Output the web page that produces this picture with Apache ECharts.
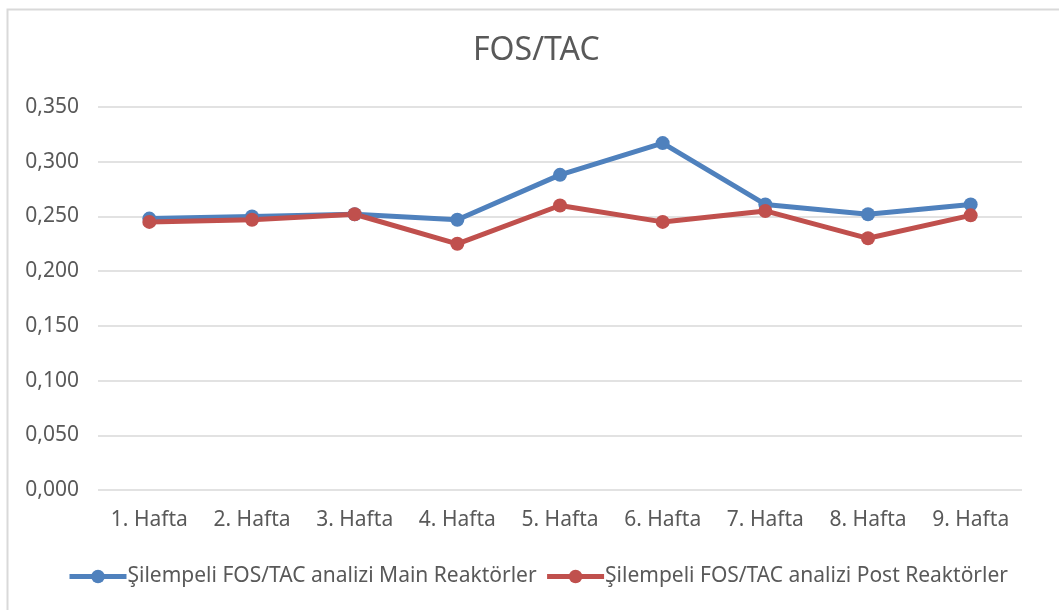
<!DOCTYPE html>
<html>
<head>
<meta charset="utf-8">
<script src="https://cdn.jsdelivr.net/npm/echarts@6/dist/echarts.min.js"></script>
<style>
  html, body { margin: 0; padding: 0; background: #fff; }
  #chart { width: 1059px; height: 610px; }
</style>
</head>
<body>
<div id="chart"></div>
<script>
(function () {
  "use strict";

  const weeks = ['1. Hafta', '2. Hafta', '3. Hafta', '4. Hafta', '5. Hafta', '6. Hafta', '7. Hafta', '8. Hafta', '9. Hafta'];
  const mainValues = [0.248, 0.250, 0.252, 0.247, 0.288, 0.317, 0.261, 0.252, 0.261];
  const postValues = [0.245, 0.247, 0.252, 0.225, 0.260, 0.245, 0.255, 0.230, 0.251];
  const seriesNames = ['Şilempeli FOS/TAC analizi Main Reaktörler', 'Şilempeli FOS/TAC analizi Post Reaktörler'];

  const font = '"Noto Sans", "Open Sans", sans-serif';
  const textColor = '#595959';

  function lineSeries(name, data, color) {
    return {
      name,
      type: 'line',
      data,
      symbol: 'circle',
      symbolSize: 14,
      lineStyle: { width: 5, color },
      itemStyle: { color },
      emphasis: { disabled: true }
    };
  }

  const chart = echarts.init(document.getElementById('chart'));
  chart.setOption({
    animation: false,
    backgroundColor: '#fff',
    title: {
      text: 'FOS/TAC',
      left: 468,
      top: 30,
      textStyle: { fontFamily: font, fontSize: 32, fontWeight: 'normal', color: textColor }
    },
    legend: {
      data: seriesNames,
      left: 62,
      top: 561,
      itemWidth: 57,
      itemHeight: 17,
      itemGap: 8,
      lineStyle: { width: 5 },
      textStyle: { fontFamily: font, fontSize: 21, color: textColor, padding: [0, 0, 0, -4] }
    },
    grid: { left: 98, right: 37, top: 107, bottom: 120 },
    xAxis: {
      type: 'category',
      data: weeks,
      axisLine: { show: false },
      axisTick: { show: false },
      axisLabel: { margin: 20, fontFamily: font, fontSize: 21, color: textColor }
    },
    yAxis: {
      type: 'value',
      min: 0,
      max: 0.35,
      interval: 0.05,
      axisLine: { show: false },
      axisTick: { show: false },
      splitLine: { lineStyle: { color: '#d9d9d9', width: 1.5 } },
      axisLabel: {
        margin: 19,
        fontFamily: font,
        fontSize: 21,
        color: textColor,
        formatter: v => v.toFixed(3).replace('.', ',')
      }
    },
    series: [
      lineSeries(seriesNames[0], mainValues, '#4F81BD'),
      lineSeries(seriesNames[1], postValues, '#C0504D')
    ],
    graphic: [{
      type: 'rect',
      shape: { x: 7.5, y: 9.5, width: 1060, height: 610 },
      style: { fill: 'none', stroke: '#d9d9d9', lineWidth: 2 },
      silent: true
    }]
  });
})();
</script>
</body>
</html>
